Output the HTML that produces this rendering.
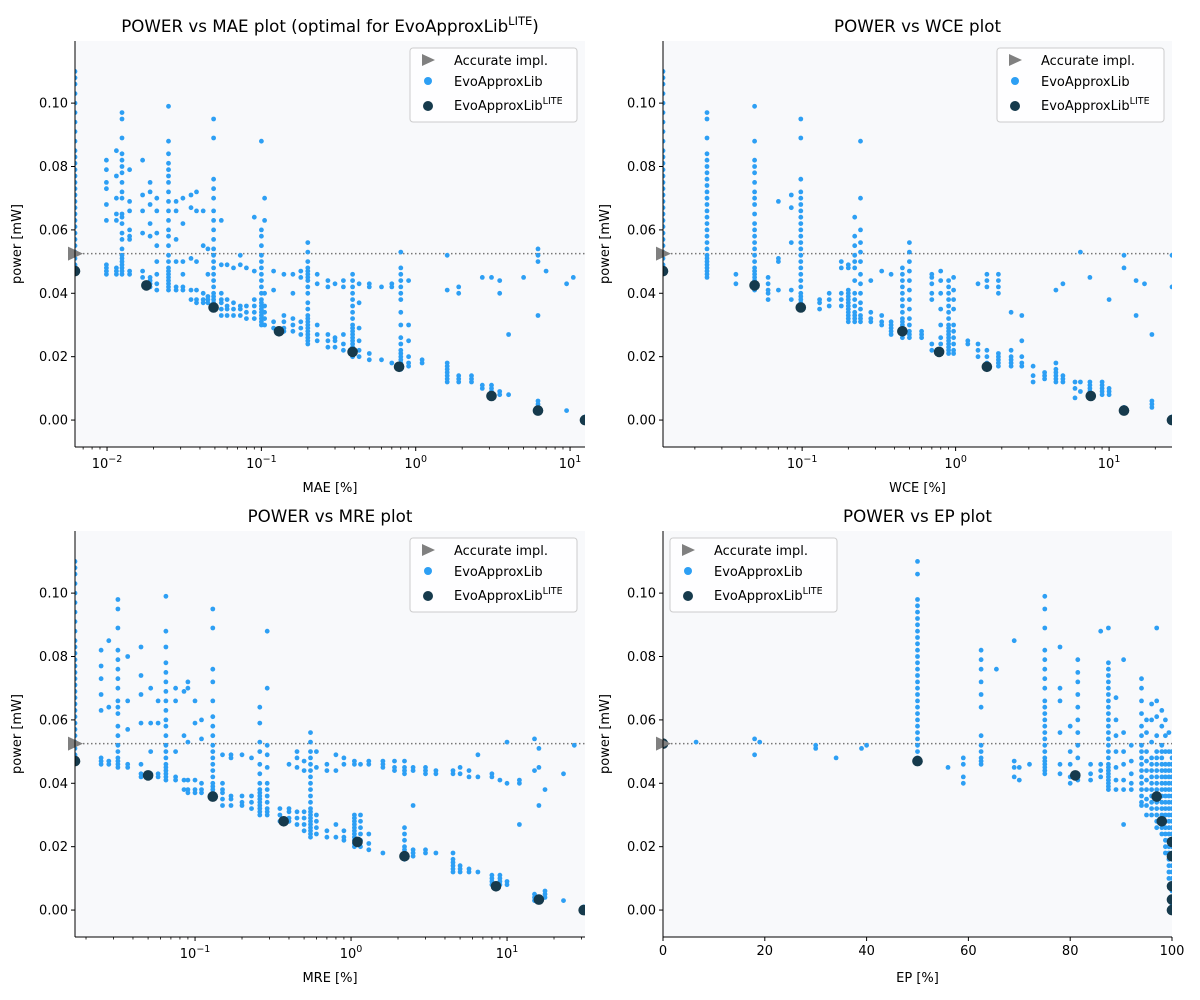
<!DOCTYPE html>
<html><head><meta charset="utf-8">
<style>
html,body{margin:0;padding:0;background:#fff;}
svg{display:block;font-family:"DejaVu Sans","Liberation Sans",sans-serif;}
</style></head>
<body>
<svg id="fig" width="1200" height="1000" viewBox="0 0 1200 1000" xmlns="http://www.w3.org/2000/svg"></svg>
<script>
// ---------- DATA ----------
const edgeColumn = [0.047,0.049,0.051,0.053,0.055,0.057,0.059,0.061,0.063,0.065,0.067,0.069,0.071,0.073,0.075,0.077,0.079,0.081,0.083,0.085,0.088,0.091,0.094,0.097,0.100,0.103,0.106,0.108,0.110];
const accuratePower = 0.0525;

const maeColumns = [
[0.0062,edgeColumn],
[0.0099,[0.046,0.047,0.048,0.049,0.063,0.068,0.073,0.075,0.079,0.082]],
[0.0115,[0.046,0.047,0.048,0.063,0.065,0.07,0.077,0.085]],
[0.0125,[0.046,0.047,0.048,0.049,0.05,0.051,0.052,0.054,0.057,0.059,0.062,0.064,0.065,0.07,0.072,0.075,0.078,0.08,0.082,0.084,0.089,0.095,0.097]],
[0.014,[0.046,0.047,0.057,0.058,0.06,0.066,0.069,0.079]],
[0.017,[0.045,0.047,0.059,0.066,0.071,0.082]],
[0.019,[0.042,0.043,0.044,0.045,0.058,0.062,0.068,0.072,0.075]],
[0.021,[0.041,0.043,0.046,0.05,0.055,0.059,0.066,0.07]],
[0.025,[0.041,0.042,0.043,0.044,0.045,0.046,0.047,0.048,0.05,0.052,0.055,0.058,0.06,0.063,0.066,0.069,0.072,0.075,0.077,0.079,0.081,0.084,0.088,0.099]],
[0.028,[0.041,0.042,0.05,0.057,0.066,0.069]],
[0.031,[0.041,0.042,0.046,0.05,0.062,0.07]],
[0.035,[0.038,0.041,0.051,0.067,0.071]],
[0.038,[0.037,0.038,0.041,0.05,0.066,0.072]],
[0.042,[0.037,0.038,0.04,0.055,0.066]],
[0.045,[0.037,0.038,0.039,0.046,0.054]],
[0.049,[0.035,0.036,0.037,0.038,0.039,0.04,0.042,0.044,0.046,0.048,0.05,0.052,0.054,0.057,0.06,0.063,0.066,0.07,0.073,0.076,0.089,0.095]],
[0.055,[0.033,0.035,0.037,0.038,0.04,0.049,0.063]],
[0.06,[0.033,0.035,0.036,0.038,0.049]],
[0.066,[0.033,0.035,0.037,0.048]],
[0.073,[0.033,0.035,0.036,0.049,0.052]],
[0.08,[0.032,0.034,0.036,0.048]],
[0.09,[0.032,0.034,0.036,0.038,0.047,0.064]],
[0.1,[0.03,0.031,0.032,0.033,0.034,0.035,0.036,0.037,0.038,0.04,0.042,0.044,0.046,0.048,0.05,0.052,0.055,0.058,0.06,0.088]],
[0.105,[0.03,0.032,0.034,0.036,0.04,0.063,0.07]],
[0.12,[0.029,0.031,0.047,0.041]],
[0.14,[0.028,0.029,0.031,0.033,0.046]],
[0.16,[0.028,0.03,0.032,0.046,0.04]],
[0.18,[0.027,0.029,0.031,0.045,0.047]],
[0.2,[0.024,0.025,0.026,0.027,0.028,0.029,0.03,0.031,0.032,0.033,0.035,0.037,0.04,0.042,0.044,0.045,0.046,0.047,0.048,0.05,0.053,0.056]],
[0.23,[0.025,0.027,0.03,0.043,0.046]],
[0.27,[0.023,0.025,0.027,0.042,0.044]],
[0.3,[0.023,0.025,0.026,0.043]],
[0.34,[0.022,0.024,0.027,0.042,0.044]],
[0.39,[0.02,0.021,0.022,0.023,0.024,0.025,0.026,0.027,0.028,0.029,0.03,0.032,0.034,0.036,0.038,0.04,0.042,0.044,0.046]],
[0.43,[0.02,0.022,0.025,0.029,0.037,0.043]],
[0.5,[0.019,0.021,0.042,0.043]],
[0.6,[0.019,0.042]],
[0.7,[0.018,0.042,0.043]],
[0.8,[0.016,0.017,0.018,0.019,0.02,0.021,0.022,0.024,0.026,0.03,0.034,0.038,0.04,0.042,0.044,0.046,0.048,0.053]],
[0.9,[0.017,0.018,0.02,0.025,0.03,0.044]],
[1.1,[0.018,0.019]],
[1.6,[0.012,0.013,0.014,0.015,0.016,0.017,0.018,0.052,0.041]],
[1.9,[0.012,0.013,0.014,0.04,0.042]],
[2.3,[0.012,0.013,0.014]],
[2.7,[0.01,0.011,0.045]],
[3.1,[0.008,0.009,0.01,0.011,0.045]],
[3.5,[0.008,0.009,0.04,0.044]],
[4,[0.008,0.027]],
[5,[0.045]],
[6.2,[0.003,0.004,0.005,0.006,0.033,0.05,0.052,0.054]],
[7,[0.047]],
[9.5,[0.003,0.043]],
[10.5,[0.045]],
[12.5,[0,0.001]]
];
const maeLiteX = [0.0062,0.018,0.049,0.13,0.39,0.78,3.1,6.2,12.5];
const maeLiteY = [0.047,0.0425,0.0355,0.028,0.0215,0.0168,0.0076,0.003,0.0];

const wceColumns = [
[0.0124,edgeColumn],
[0.024,[0.045,0.046,0.047,0.048,0.049,0.05,0.051,0.052,0.054,0.056,0.058,0.06,0.062,0.064,0.066,0.068,0.07,0.072,0.074,0.076,0.078,0.08,0.082,0.084,0.089,0.095,0.097]],
[0.037,[0.043,0.046]],
[0.049,[0.041,0.042,0.043,0.044,0.045,0.046,0.047,0.048,0.05,0.052,0.054,0.056,0.058,0.06,0.062,0.065,0.068,0.07,0.072,0.075,0.078,0.08,0.082,0.088,0.099]],
[0.06,[0.038,0.04,0.041,0.043,0.045]],
[0.07,[0.041,0.05,0.051,0.069]],
[0.085,[0.038,0.041,0.056,0.067,0.071]],
[0.098,[0.035,0.036,0.037,0.038,0.039,0.04,0.042,0.044,0.046,0.048,0.05,0.052,0.054,0.056,0.058,0.06,0.062,0.064,0.066,0.068,0.07,0.072,0.076,0.089,0.095]],
[0.13,[0.035,0.037,0.038]],
[0.15,[0.036,0.038,0.04]],
[0.18,[0.036,0.038,0.04,0.048,0.05]],
[0.2,[0.031,0.032,0.033,0.034,0.035,0.036,0.037,0.038,0.039,0.04,0.041,0.048,0.049]],
[0.22,[0.031,0.032,0.033,0.034,0.036,0.038,0.04,0.044,0.048,0.05,0.052,0.055,0.058,0.064]],
[0.24,[0.031,0.032,0.033,0.035,0.037,0.04,0.043,0.046,0.05,0.053,0.056,0.06,0.07,0.088]],
[0.28,[0.031,0.032,0.034,0.044]],
[0.33,[0.03,0.031,0.033,0.047]],
[0.38,[0.027,0.028,0.029,0.03,0.031,0.046]],
[0.45,[0.026,0.027,0.028,0.029,0.03,0.031,0.032,0.034,0.036,0.038,0.04,0.042,0.044,0.046,0.048]],
[0.5,[0.026,0.027,0.028,0.03,0.032,0.035,0.038,0.041,0.044,0.047,0.05,0.053,0.056]],
[0.6,[0.026,0.027,0.028]],
[0.7,[0.022,0.024,0.038,0.04,0.043,0.045,0.046]],
[0.8,[0.022,0.024,0.026,0.03,0.035,0.04,0.044,0.047]],
[0.9,[0.021,0.022,0.023,0.024,0.025,0.026,0.027,0.028,0.029,0.03,0.032,0.034,0.036,0.038,0.04,0.042,0.044]],
[0.97,[0.021,0.022,0.024,0.026,0.028,0.03,0.035,0.038,0.041,0.045]],
[1.2,[0.024,0.025]],
[1.4,[0.02,0.022,0.024,0.043]],
[1.6,[0.016,0.018,0.02,0.022,0.042,0.044,0.046]],
[1.9,[0.017,0.018,0.019,0.02,0.021,0.04,0.042,0.044,0.046]],
[2.3,[0.017,0.018,0.019,0.02,0.022,0.034]],
[2.7,[0.017,0.018,0.02,0.025,0.033]],
[3.2,[0.012,0.014,0.017]],
[3.8,[0.013,0.014,0.015]],
[4.5,[0.012,0.013,0.014,0.015,0.016,0.018,0.041]],
[5,[0.012,0.013,0.014,0.043]],
[6,[0.007,0.01,0.012]],
[6.5,[0.009,0.012,0.053]],
[7.5,[0.008,0.009,0.01,0.011,0.012,0.045]],
[9,[0.008,0.009,0.01,0.011,0.012]],
[10,[0.008,0.009,0.01,0.038]],
[12.5,[0.003,0.004,0.048,0.052]],
[15,[0.033,0.044]],
[17,[0.043]],
[19,[0.004,0.005,0.006,0.027]],
[25.7,[0,0.001,0.052,0.042]]
];
const wceLiteX = [0.0124,0.049,0.098,0.45,0.78,1.6,7.6,12.5,25.7];
const wceLiteY = [0.047,0.0425,0.0355,0.028,0.0215,0.0168,0.0076,0.003,0.0];

const mreColumns = [
[0.017,edgeColumn],
[0.025,[0.046,0.047,0.048,0.063,0.068,0.073,0.077,0.082]],
[0.028,[0.046,0.047,0.064,0.085]],
[0.032,[0.045,0.046,0.047,0.048,0.05,0.052,0.055,0.058,0.062,0.064,0.066,0.07,0.073,0.076,0.079,0.082,0.089,0.095,0.098]],
[0.037,[0.045,0.046,0.057,0.066,0.08]],
[0.045,[0.042,0.043,0.046,0.059,0.068,0.074,0.083]],
[0.052,[0.042,0.043,0.05,0.059,0.07]],
[0.058,[0.042,0.043,0.059,0.066]],
[0.065,[0.041,0.042,0.043,0.044,0.045,0.046,0.048,0.05,0.052,0.055,0.058,0.06,0.063,0.066,0.069,0.072,0.075,0.078,0.083,0.088,0.099]],
[0.075,[0.041,0.042,0.05,0.066,0.07]],
[0.085,[0.038,0.041,0.055,0.069]],
[0.09,[0.037,0.038,0.041,0.053,0.07,0.072]],
[0.1,[0.037,0.038,0.041,0.059,0.066]],
[0.11,[0.037,0.038,0.04,0.054,0.06]],
[0.13,[0.035,0.036,0.037,0.038,0.039,0.04,0.042,0.044,0.046,0.048,0.05,0.052,0.055,0.058,0.061,0.066,0.072,0.076,0.089,0.095]],
[0.15,[0.033,0.035,0.037,0.038,0.04,0.049]],
[0.17,[0.033,0.035,0.036,0.048,0.049]],
[0.2,[0.033,0.034,0.036,0.049]],
[0.23,[0.032,0.034,0.036,0.048]],
[0.26,[0.03,0.031,0.032,0.033,0.034,0.035,0.036,0.037,0.038,0.04,0.043,0.046,0.05,0.053,0.059,0.064]],
[0.29,[0.03,0.031,0.032,0.034,0.036,0.038,0.04,0.045,0.049,0.052,0.07,0.088]],
[0.35,[0.028,0.03,0.032]],
[0.4,[0.028,0.029,0.031,0.032,0.046]],
[0.45,[0.027,0.029,0.031,0.045,0.048,0.05]],
[0.5,[0.025,0.027,0.029,0.031,0.044,0.047]],
[0.55,[0.023,0.024,0.025,0.026,0.027,0.028,0.029,0.03,0.031,0.032,0.034,0.036,0.038,0.04,0.042,0.044,0.046,0.048,0.05,0.053,0.056]],
[0.6,[0.024,0.026,0.028,0.03,0.045,0.05]],
[0.7,[0.023,0.025,0.044,0.046]],
[0.8,[0.023,0.027,0.044,0.049]],
[0.9,[0.022,0.023,0.025,0.046,0.048]],
[1.05,[0.02,0.021,0.022,0.023,0.024,0.025,0.026,0.027,0.028,0.029,0.03,0.046,0.047]],
[1.15,[0.02,0.022,0.024,0.026,0.028,0.03,0.046]],
[1.3,[0.019,0.021,0.024,0.046,0.047]],
[1.6,[0.018,0.045,0.046,0.047]],
[1.9,[0.044,0.045,0.047]],
[2.2,[0.016,0.017,0.018,0.019,0.02,0.022,0.024,0.026,0.043,0.044,0.045,0.047]],
[2.5,[0.017,0.018,0.019,0.033,0.044,0.045]],
[3,[0.018,0.019,0.043,0.044,0.045]],
[3.5,[0.018,0.043,0.044]],
[4.5,[0.012,0.013,0.014,0.015,0.016,0.018,0.043,0.044]],
[5,[0.012,0.013,0.014,0.043,0.045]],
[5.7,[0.012,0.013,0.042,0.044]],
[6.5,[0.012,0.042,0.049]],
[8,[0.008,0.009,0.01,0.011,0.042,0.043]],
[9,[0.008,0.009,0.01,0.011,0.041]],
[10,[0.008,0.009,0.04,0.053]],
[12,[0.027,0.04,0.041]],
[15,[0.003,0.004,0.005,0.044,0.054]],
[16,[0.033,0.045,0.051]],
[17.5,[0.004,0.005,0.006,0.038]],
[23,[0.003,0.043]],
[27,[0.052]],
[31,[0,0.001]]
];
const mreLiteX = [0.017,0.05,0.13,0.37,1.1,2.2,8.5,16,31];
const mreLiteY = [0.047,0.0425,0.0358,0.028,0.0215,0.017,0.0075,0.0033,0.0];

const epColumns = [
[6.5,[0.053]],[18,[0.049,0.054]],[19,[0.053]],[30,[0.051,0.052]],[34,[0.048]],[39,[0.051]],[40,[0.052]],
[50,[0.047,0.048,0.05,0.052,0.054,0.056,0.058,0.06,0.062,0.064,0.066,0.068,0.07,0.072,0.074,0.076,0.078,0.08,0.082,0.084,0.086,0.088,0.09,0.092,0.094,0.096,0.098,0.106,0.11]],
[56,[0.045]],[59,[0.04,0.042,0.046,0.048]],
[62.5,[0.046,0.047,0.048,0.05,0.052,0.055,0.064,0.068,0.072,0.076,0.079,0.082]],
[65.5,[0.076]],[69,[0.042,0.045,0.047,0.085]],[70,[0.041,0.045]],[72,[0.046]],
[75,[0.043,0.044,0.045,0.046,0.047,0.048,0.05,0.052,0.054,0.056,0.058,0.06,0.062,0.064,0.066,0.07,0.073,0.076,0.079,0.082,0.089,0.095,0.099]],
[78,[0.043,0.046,0.056,0.066,0.07,0.083]],
[80,[0.04,0.042,0.046,0.05,0.058]],
[81.5,[0.041,0.042,0.043,0.048,0.052,0.056,0.06,0.064,0.068,0.072,0.075,0.079]],
[84,[0.041,0.043,0.046]],
[86,[0.042,0.044,0.046,0.088]],
[87.5,[0.038,0.039,0.04,0.041,0.042,0.043,0.044,0.045,0.046,0.048,0.05,0.052,0.054,0.056,0.058,0.06,0.062,0.064,0.066,0.068,0.07,0.072,0.074,0.076,0.078,0.089]],
[89,[0.038,0.041,0.045,0.05,0.055,0.06,0.067]],
[90.5,[0.027,0.038,0.041,0.046,0.05,0.056,0.079]],
[92,[0.038,0.04,0.043,0.047,0.052]],
[94,[0.033,0.034,0.036,0.038,0.04,0.042,0.044,0.046,0.048,0.05,0.052,0.055,0.058,0.062,0.066,0.07,0.073]],
[95,[0.03,0.033,0.035,0.038,0.041,0.044,0.047,0.05,0.056,0.06]],
[96,[0.03,0.032,0.034,0.036,0.038,0.04,0.042,0.044,0.046,0.048,0.053,0.06,0.065]],
[97,[0.026,0.028,0.03,0.032,0.034,0.036,0.038,0.04,0.042,0.044,0.046,0.048,0.05,0.055,0.061,0.066,0.089]],
[98,[0.024,0.026,0.028,0.03,0.032,0.034,0.036,0.038,0.04,0.042,0.044,0.046,0.048,0.05,0.052,0.058,0.063]],
[98.7,[0.018,0.02,0.022,0.024,0.026,0.028,0.03,0.032,0.034,0.036,0.038,0.04,0.042,0.044,0.046,0.05,0.055,0.06]],
[99.4,[0.01,0.012,0.014,0.016,0.018,0.02,0.022,0.024,0.026,0.028,0.03,0.032,0.034,0.036,0.038,0.04,0.042,0.044,0.046,0.05,0.056]],
[100,[0,0.002,0.004,0.006,0.008,0.01,0.012,0.014,0.016,0.018,0.02,0.022,0.024,0.026,0.028,0.03,0.032,0.034,0.036,0.038,0.04,0.042,0.044,0.046,0.048,0.05]]
];
const epLiteX = [0,50,81,97,98,100,100,100,100,100];
const epLiteY = [0.0525,0.047,0.0425,0.0358,0.028,0.0215,0.017,0.0075,0.0033,0.0];

const yTicks = [0,0.02,0.04,0.06,0.08,0.10];
const yTickLabels = ["0.00","0.02","0.04","0.06","0.08","0.10"];
const epTicks = [0,20,40,60,80,100];

// ---------- RENDER ----------
const NS="http://www.w3.org/2000/svg";
const svg=document.getElementById('fig');
function mk(tag,attrs,parent){const e=document.createElementNS(NS,tag);for(const k in attrs)e.setAttribute(k,attrs[k]);(parent||svg).appendChild(e);return e;}

const BLUE="#2d9ff4", DARK="#163a4c";
const panels=[
 {key:"mae",x0:75,y0:41,w:510,h:406,log:true,xmin:0.0062,xmax:12.5,xticks:[-2,-1,0,1],cols:maeColumns,lx:maeLiteX,ly:maeLiteY,xlabel:"MAE [%]",title:"POWER vs MAE plot (optimal for EvoApproxLib",sup:"LITE",tail:")",legendLeft:false},
 {key:"wce",x0:663,y0:41,w:509,h:406,log:true,xmin:0.0124,xmax:25.7,xticks:[-1,0,1],cols:wceColumns,lx:wceLiteX,ly:wceLiteY,xlabel:"WCE [%]",title:"POWER vs WCE plot",legendLeft:false},
 {key:"mre",x0:75,y0:531,w:510,h:406,log:true,xmin:0.017,xmax:31.6,xticks:[-1,0,1],cols:mreColumns,lx:mreLiteX,ly:mreLiteY,xlabel:"MRE [%]",title:"POWER vs MRE plot",legendLeft:false},
 {key:"ep",x0:663,y0:531,w:509,h:406,log:false,xmin:0,xmax:100,xticks:epTicks,cols:epColumns,lx:epLiteX,ly:epLiteY,xlabel:"EP [%]",title:"POWER vs EP plot",legendLeft:true}
];
const YMIN=-0.0085,YMAX=0.1196;

panels.forEach((p,pi)=>{
 const g=mk('g',{});
 
 
 const sx=v=>p.log? p.x0+(Math.log10(v)-Math.log10(p.xmin))/(Math.log10(p.xmax)-Math.log10(p.xmin))*p.w : p.x0+(v-p.xmin)/(p.xmax-p.xmin)*p.w;
 const sy=v=>p.y0+p.h-(v-YMIN)/(YMAX-YMIN)*p.h;
 const bg=mk('rect',{x:p.x0,y:p.y0,width:p.w,height:p.h,fill:"#f8f9fb"},g);
 
 
 const cid='clip'+pi;
 const cp=mk('clipPath',{id:cid},g);mk('rect',{x:p.x0,y:p.y0,width:p.w,height:p.h},cp);
 const dl=mk('line',{x1:p.x0,x2:p.x0+p.w,y1:sy(accuratePower),y2:sy(accuratePower),stroke:"#777","stroke-width":1.5,"stroke-dasharray":"1.5,2.5"},g);
 
 
 const pts=mk('g',{'clip-path':'url(#'+cid+')'},g);
 
 
 p.cols.forEach(c=>{c[1].forEach(v=>{
   const e=mk('circle',{cx:sx(c[0]).toFixed(1),cy:sy(v).toFixed(1),r:2.4,fill:BLUE},pts);
   
   
 });});
 const lite=mk('g',{'clip-path':'url(#'+cid+')'},g);
 
 
 p.lx.forEach((xv,i)=>{
   const e=mk('circle',{cx:sx(xv).toFixed(1),cy:sy(p.ly[i]).toFixed(1),r:5.3,fill:DARK},lite);
   
   
 });
 const ty=sy(accuratePower);
 const tri=mk('polygon',{points:`${p.x0-7},${ty-7} ${p.x0+8},${ty} ${p.x0-7},${ty+7}`,fill:"#808080"},g);
 
 
 mk('line',{x1:p.x0,x2:p.x0,y1:p.y0,y2:p.y0+p.h,stroke:"#000","stroke-width":1},g);
 mk('line',{x1:p.x0,x2:p.x0+p.w,y1:p.y0+p.h,y2:p.y0+p.h,stroke:"#000","stroke-width":1},g);
 yTicks.forEach((v,i)=>{
  const y=sy(v);
  mk('line',{x1:p.x0-4,x2:p.x0,y1:y,y2:y,stroke:"#000"},g);
  const t=mk('text',{x:p.x0-7,y:y+4.5,'text-anchor':'end','font-size':13},g);t.textContent=yTickLabels[i];
  
  
 });
 const yb=p.y0+p.h;
 if(p.log){
  const lmin=Math.floor(Math.log10(p.xmin)),lmax=Math.ceil(Math.log10(p.xmax));
  for(let d=lmin;d<lmax;d++)for(let m=2;m<=9;m++){const v=m*Math.pow(10,d);if(v>p.xmin&&v<p.xmax){const x=sx(v);mk('line',{x1:x,x2:x,y1:yb,y2:yb+2.5,stroke:"#000","stroke-width":0.8},g);}}
  p.xticks.forEach(d=>{const x=sx(Math.pow(10,d));mk('line',{x1:x,x2:x,y1:yb,y2:yb+4,stroke:"#000"},g);
   const t=mk('text',{x:x,y:yb+21,'text-anchor':'middle','font-size':13},g);
   
   
   const a=mk('tspan',{},t);a.textContent="10";
   const b=mk('tspan',{dy:-6,'font-size':9.5},t);b.textContent=d<0?"\u2212"+(-d):String(d);
  });
 } else {
  p.xticks.forEach(v=>{const x=sx(v);mk('line',{x1:x,x2:x,y1:yb,y2:yb+4,stroke:"#000"},g);
   const t=mk('text',{x:x,y:yb+18,'text-anchor':'middle','font-size':13},g);t.textContent=String(v);
   
   
  });
 }
 const xl=mk('text',{x:p.x0+p.w/2,y:yb+45,'text-anchor':'middle','font-size':13},g);xl.textContent=p.xlabel;
 
 
 const yl=mk('text',{x:0,y:0,'text-anchor':'middle','font-size':13,transform:`translate(${p.x0-54},${p.y0+p.h/2}) rotate(-90)`},g);yl.textContent="power [mW]";
 
 
 const tt=mk('text',{x:p.x0+p.w/2,y:p.y0-9,'text-anchor':'middle','font-size':16.7},g);
 
 
 const s1=mk('tspan',{},tt);s1.textContent=p.title;
 if(p.sup){const s2=mk('tspan',{dy:-7,'font-size':11.5},tt);s2.textContent=p.sup;const s3=mk('tspan',{dy:7},tt);s3.textContent=p.tail;}
 const lx=p.legendLeft? p.x0+7 : p.x0+p.w-175, ly=p.y0+7;
 const lg=mk('g',{},g);
 
 
 mk('rect',{x:lx,y:ly,width:167,height:74,rx:3,fill:"#fff","fill-opacity":0.85,stroke:"#ccc"},lg);
 const ex=lx+18;
 mk('polygon',{points:`${ex-6},${ly+6} ${ex+7},${ly+12} ${ex-6},${ly+18}`,fill:"#808080"},lg);
 mk('circle',{cx:ex,cy:ly+33,r:4,fill:BLUE},lg);
 mk('circle',{cx:ex,cy:ly+58,r:5,fill:DARK},lg);
 const labs=[["Accurate impl.",ly+17,null],["EvoApproxLib",ly+38,null],["EvoApproxLib",ly+62,"LITE"]];
 labs.forEach(l=>{const t=mk('text',{x:lx+44,y:l[1],'font-size':13},lg);
  
  
  const a=mk('tspan',{},t);a.textContent=l[0];
  if(l[2]){const b=mk('tspan',{dy:-6,'font-size':9.5},t);b.textContent=l[2];}
 });
});
</script>
</body></html>
